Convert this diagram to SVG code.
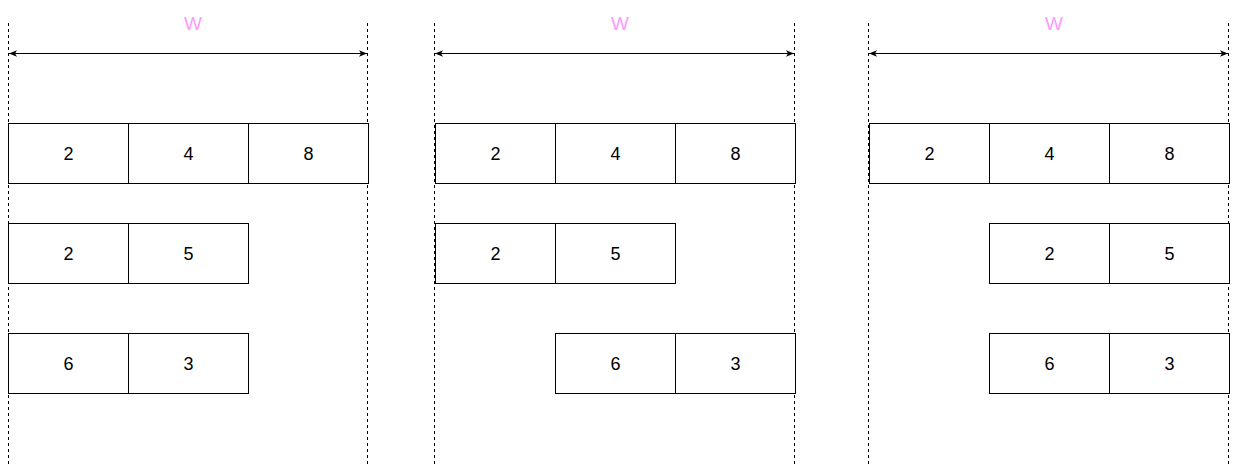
<svg xmlns="http://www.w3.org/2000/svg" width="1239" height="465" viewBox="0 0 1239 465">
<style>
.cell{fill:#fff;stroke:#000;stroke-width:1}
.num{font-family:"Liberation Sans",Arial,sans-serif;font-size:18px;fill:#000;text-anchor:middle}
.w{font-family:"Liberation Sans",Arial,sans-serif;font-size:19px;fill:#FF99FF;text-anchor:middle}
.guide{stroke:#000;stroke-width:1;stroke-dasharray:3 3;fill:none}
.dim{stroke:#000;stroke-width:1;fill:none;marker-start:url(#ah);marker-end:url(#ah)}
</style>
<defs>
<marker id="ah" viewBox="0 0 10 8" refX="10" refY="4" markerWidth="8" markerHeight="7" markerUnits="userSpaceOnUse" orient="auto-start-reverse">
<path d="M0,0 L10,4 L0,8 L2.5,4 Z" fill="#000"/>
</marker>
</defs>
<rect width="1239" height="465" fill="#fff"/>
<g id="guides">
<line class="guide" x1="8.5" y1="23" x2="8.5" y2="465"/>
<line class="guide" x1="367.5" y1="23" x2="367.5" y2="465"/>
<line class="guide" x1="434.5" y1="23" x2="434.5" y2="465"/>
<line class="guide" x1="794.5" y1="23" x2="794.5" y2="465"/>
<line class="guide" x1="868.5" y1="23" x2="868.5" y2="465"/>
<line class="guide" x1="1228.5" y1="23" x2="1228.5" y2="465"/>
</g>
<g id="connectors">
<line class="dim" x1="9" y1="53.5" x2="367" y2="53.5"/>
<line class="dim" x1="435" y1="53.5" x2="794" y2="53.5"/>
<line class="dim" x1="869" y1="53.5" x2="1228" y2="53.5"/>
</g>
<g id="labels">
<text class="w" x="193" y="29.5">W</text>
<text class="w" x="620" y="29.5">W</text>
<text class="w" x="1054" y="29.5">W</text>
</g>
<g id="panel1">
<g id="p1-r1">
<rect class="cell" x="8.5" y="123.5" width="120" height="60"/><text class="num" x="68.5" y="160">2</text>
<rect class="cell" x="128.5" y="123.5" width="120" height="60"/><text class="num" x="188.5" y="160">4</text>
<rect class="cell" x="248.5" y="123.5" width="120" height="60"/><text class="num" x="308.5" y="160">8</text>
</g>
<g id="p1-r2">
<rect class="cell" x="8.5" y="223.5" width="120" height="60"/><text class="num" x="68.5" y="260">2</text>
<rect class="cell" x="128.5" y="223.5" width="120" height="60"/><text class="num" x="188.5" y="260">5</text>
</g>
<g id="p1-r3">
<rect class="cell" x="8.5" y="333.5" width="120" height="60"/><text class="num" x="68.5" y="370">6</text>
<rect class="cell" x="128.5" y="333.5" width="120" height="60"/><text class="num" x="188.5" y="370">3</text>
</g>
</g>
<g id="panel2">
<g id="p2-r1">
<rect class="cell" x="435.5" y="123.5" width="120" height="60"/><text class="num" x="495.5" y="160">2</text>
<rect class="cell" x="555.5" y="123.5" width="120" height="60"/><text class="num" x="615.5" y="160">4</text>
<rect class="cell" x="675.5" y="123.5" width="120" height="60"/><text class="num" x="735.5" y="160">8</text>
</g>
<g id="p2-r2">
<rect class="cell" x="435.5" y="223.5" width="120" height="60"/><text class="num" x="495.5" y="260">2</text>
<rect class="cell" x="555.5" y="223.5" width="120" height="60"/><text class="num" x="615.5" y="260">5</text>
</g>
<g id="p2-r3">
<rect class="cell" x="555.5" y="333.5" width="120" height="60"/><text class="num" x="615.5" y="370">6</text>
<rect class="cell" x="675.5" y="333.5" width="120" height="60"/><text class="num" x="735.5" y="370">3</text>
</g>
</g>
<g id="panel3">
<g id="p3-r1">
<rect class="cell" x="869.5" y="123.5" width="120" height="60"/><text class="num" x="929.5" y="160">2</text>
<rect class="cell" x="989.5" y="123.5" width="120" height="60"/><text class="num" x="1049.5" y="160">4</text>
<rect class="cell" x="1109.5" y="123.5" width="120" height="60"/><text class="num" x="1169.5" y="160">8</text>
</g>
<g id="p3-r2">
<rect class="cell" x="989.5" y="223.5" width="120" height="60"/><text class="num" x="1049.5" y="260">2</text>
<rect class="cell" x="1109.5" y="223.5" width="120" height="60"/><text class="num" x="1169.5" y="260">5</text>
</g>
<g id="p3-r3">
<rect class="cell" x="989.5" y="333.5" width="120" height="60"/><text class="num" x="1049.5" y="370">6</text>
<rect class="cell" x="1109.5" y="333.5" width="120" height="60"/><text class="num" x="1169.5" y="370">3</text>
</g>
</g>
</svg>
